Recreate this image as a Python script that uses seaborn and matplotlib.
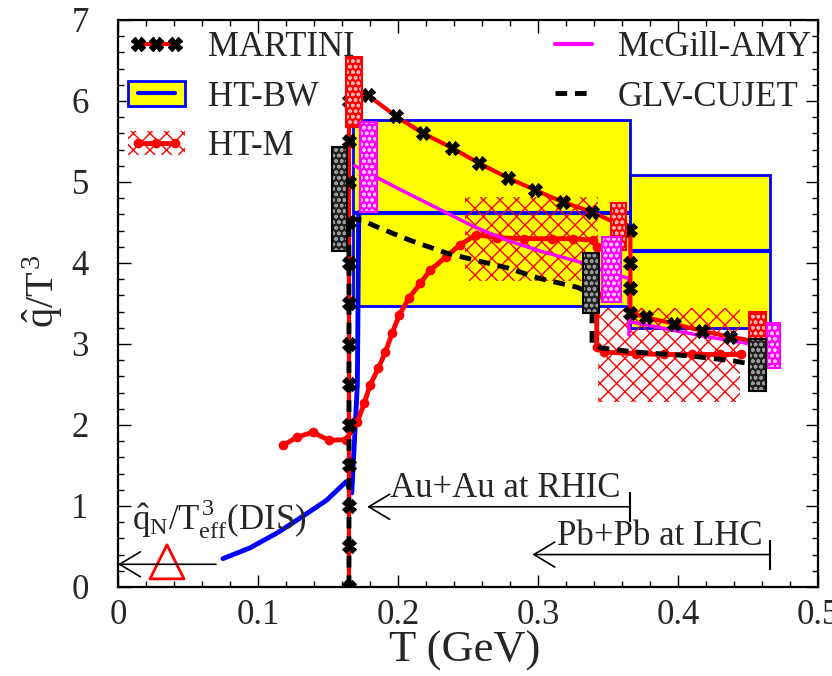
import numpy as np
import matplotlib
matplotlib.use("Agg")
import matplotlib.pyplot as plt
import seaborn as sns
from matplotlib.lines import Line2D
from matplotlib.patches import Patch
from matplotlib.legend_handler import HandlerTuple
from matplotlib.ticker import MultipleLocator, FuncFormatter

# ---------------- data ----------------
# MARTINI (red line, black X markers)
martini_T = [0.165, 0.165, 0.165, 0.165, 0.165, 0.165, 0.165, 0.165, 0.165, 0.165, 0.165, 0.165, 0.165,
             0.1786, 0.1986, 0.218, 0.2386, 0.258, 0.2786, 0.298, 0.318, 0.3386, 0.366,
             0.366, 0.366, 0.366, 0.377, 0.397, 0.417, 0.437, 0.466]
martini_q = [0.0, 0.5, 1.0, 1.5, 2.0, 2.5, 3.0, 3.5, 4.0, 4.5, 5.0, 5.5, 6.0,
             6.07, 5.81, 5.60, 5.42, 5.23, 5.05, 4.90, 4.75, 4.63, 4.41,
             4.0, 3.69, 3.38, 3.33, 3.25, 3.16, 3.09, 3.0]

# GLV-CUJET (black dashed)
glv_T = [0.165, 0.165, 0.174, 0.187, 0.2086, 0.235, 0.249, 0.278, 0.301, 0.328, 0.3386,
         0.3386, 0.345, 0.37, 0.41, 0.44, 0.459]
glv_q = [0.0, 4.55, 4.53, 4.43, 4.28, 4.12, 4.06, 3.94, 3.81, 3.70, 3.62,
         3.0, 2.95, 2.90, 2.85, 2.79, 2.73]

# McGill-AMY (magenta)
amy_T = [0.169, 0.18, 0.2, 0.23, 0.254, 0.278, 0.301, 0.33, 0.354, 0.365, 0.365]
amy_q = [5.2, 5.1, 4.92, 4.66, 4.45, 4.28, 4.15, 4.01, 3.86, 3.81, 3.11]
amy_lhc_T = [0.367, 0.417, 0.466]
amy_lhc_q = [3.27, 3.10, 2.96]

# HT-BW curve (blue)
htbw_T = [0.075, 0.094, 0.114, 0.13, 0.149, 0.163, 0.167, 0.171, 0.172]
htbw_q = [0.35, 0.48, 0.67, 0.85, 1.07, 1.3, 1.16, 2.5, 4.62]
# HT-BW boxes (RHIC, LHC)
htbw_T0 = [0.168, 0.366]
htbw_T1 = [0.366, 0.466]
htbw_lo = [3.47, 3.20]
htbw_hi = [5.77, 5.09]
htbw_mid = [4.62, 4.15]

# HT-M curve (red line with circles)
htm_T = [0.118, 0.128, 0.139, 0.151, 0.163, 0.171, 0.176, 0.18, 0.186, 0.191, 0.196, 0.201,
         0.208, 0.216, 0.223, 0.234, 0.244, 0.256, 0.271, 0.29, 0.31, 0.325, 0.339,
         0.342, 0.342, 0.342, 0.347, 0.37, 0.39, 0.41, 0.43, 0.445]
htm_q = [1.75, 1.85, 1.91, 1.81, 1.82, 2.04, 2.27, 2.49, 2.70, 2.90, 3.14, 3.36,
         3.57, 3.75, 3.91, 4.07, 4.22, 4.35, 4.31, 4.30, 4.30, 4.30, 4.28,
         4.2, 3.6, 2.96, 2.90, 2.88, 2.87, 2.87, 2.87, 2.87]
# HT-M hatched boxes (RHIC, LHC)
htm_T0 = [0.248, 0.343]
htm_T1 = [0.343, 0.444]
htm_lo = [3.78, 2.28]
htm_hi = [4.81, 3.44]

# error boxes
martini_err_T0 = [0.163, 0.352, 0.451]
martini_err_T1 = [0.174, 0.363, 0.463]
martini_err_lo = [5.68, 4.16, 2.89]
martini_err_hi = [6.54, 4.74, 3.40]
amy_err_T0 = [0.173, 0.346, 0.4636]
amy_err_T1 = [0.185, 0.359, 0.473]
amy_err_lo = [4.63, 3.52, 2.70]
amy_err_hi = [5.74, 4.32, 3.26]
glv_err_T0 = [0.153, 0.332, 0.451]
glv_err_T1 = [0.1636, 0.3436, 0.463]
glv_err_lo = [4.15, 3.38, 2.42]
glv_err_hi = [5.43, 4.12, 3.06]

# DIS point and arrows
dis_T = [0.035]
dis_q = [0.31]
dis_arrow = (0.07, 0.0, 0.28)          # from T, to T, q
rhic_arrow = (0.366, 0.178, 0.99)
lhc_arrow = (0.466, 0.296, 0.40)
rhic_bar = (0.366, 0.80, 1.17)
lhc_bar = (0.466, 0.21, 0.58)

# ---------------- style ----------------
sns.set_style("ticks")
plt.rcParams["font.family"] = ["Liberation Serif", "DejaVu Serif"]
plt.rcParams["mathtext.fontset"] = "custom"
plt.rcParams["mathtext.rm"] = "Liberation Serif"
plt.rcParams["mathtext.it"] = "Liberation Serif"
plt.rcParams["mathtext.bf"] = "Liberation Serif:bold"
plt.rcParams["hatch.linewidth"] = 1.0

fig = plt.figure(figsize=(8.32, 6.76), dpi=100)
ax = fig.add_axes([0.1418, 0.1317, 0.8413, 0.8388])

RED = "#ff0000"
BLUE = "#0000ff"
MAG = "#ff00ff"
YEL = "#ffff00"


def box(T0, T1, lo, hi, **kw):
    T0 = np.asarray(T0); T1 = np.asarray(T1)
    lo = np.asarray(lo); hi = np.asarray(hi)
    ax.bar(T0, hi - lo, width=T1 - T0, bottom=lo, align="edge", **kw)


# HT-BW yellow boxes
box(htbw_T0, htbw_T1, htbw_lo, htbw_hi, color=YEL, linewidth=0, zorder=1)
box(htbw_T0, htbw_T1, htbw_lo, htbw_hi, facecolor="none", edgecolor=BLUE, linewidth=2, zorder=2)
ax.hlines(htbw_mid, htbw_T0, htbw_T1, color=BLUE, linewidth=3, zorder=2)

# HT-M hatched boxes
box(htm_T0, htm_T1, htm_lo, htm_hi, facecolor="none", edgecolor=RED, hatch="xx", linewidth=0, zorder=3)

# curves
sns.lineplot(x=htbw_T, y=htbw_q, sort=False, estimator=None, ax=ax, color=BLUE, linewidth=3.5, zorder=4, legend=False)
sns.lineplot(x=htm_T, y=htm_q, sort=False, estimator=None, ax=ax, color=RED, linewidth=3.5,
             marker="o", markersize=7, markeredgewidth=0, markerfacecolor=RED, zorder=4, legend=False)
sns.lineplot(x=amy_T, y=amy_q, sort=False, estimator=None, ax=ax, color=MAG, linewidth=2.5, zorder=5, legend=False)
sns.lineplot(x=amy_lhc_T, y=amy_lhc_q, sort=False, estimator=None, ax=ax, color=MAG, linewidth=2.5, zorder=5, legend=False)
sns.lineplot(x=martini_T, y=martini_q, sort=False, estimator=None, ax=ax, color=RED, linewidth=3,
             marker="X", markersize=10, markerfacecolor="black", markeredgecolor="black", zorder=6, legend=False)
sns.lineplot(x=glv_T, y=glv_q, sort=False, estimator=None, ax=ax, color="black", linewidth=3.5,
             linestyle=(0, (2.4, 1.6)), zorder=6.5, legend=False)

# error boxes
box(martini_err_T0, martini_err_T1, martini_err_lo, martini_err_hi, facecolor=RED, edgecolor="#ffb0b0",
    hatch="ooo", linewidth=0, zorder=7)
box(martini_err_T0, martini_err_T1, martini_err_lo, martini_err_hi, facecolor="none", edgecolor=RED,
    linewidth=1.5, zorder=7)
box(amy_err_T0, amy_err_T1, amy_err_lo, amy_err_hi, facecolor=MAG, edgecolor="#ffc0ff",
    hatch="ooo", linewidth=0, zorder=7)
box(amy_err_T0, amy_err_T1, amy_err_lo, amy_err_hi, facecolor="none", edgecolor=MAG,
    linewidth=1.5, zorder=7)
box(glv_err_T0, glv_err_T1, glv_err_lo, glv_err_hi, facecolor="#222222", edgecolor="#9a9a9a",
    hatch="ooo", linewidth=0, zorder=7)
box(glv_err_T0, glv_err_T1, glv_err_lo, glv_err_hi, facecolor="none", edgecolor="black",
    linewidth=1.5, zorder=7)

# DIS triangle
sns.scatterplot(x=dis_T, y=dis_q, ax=ax, marker="^", s=600, facecolor="none", edgecolor=RED,
                linewidth=2, zorder=8, legend=False)

# arrows
arrow_kw = dict(arrowstyle="->,head_length=0.75,head_width=0.45", mutation_scale=20,
                color="black", lw=1.2, shrinkA=0, shrinkB=0)
for (t0, t1, q) in [dis_arrow, rhic_arrow, lhc_arrow]:
    ax.annotate("", xy=(t1, q), xytext=(t0, q), arrowprops=arrow_kw, zorder=8)
for (t, q0, q1) in [rhic_bar, lhc_bar]:
    ax.vlines(t, q0, q1, color="black", linewidth=1.5, zorder=8)

ax.text(0.010, 0.70, r"$\hat{q}_{\rm N}/T^3_{\rm eff}$(DIS)", fontsize=25, va="baseline", ha="left", zorder=9)
ax.text(0.194, 1.11, "Au+Au at RHIC", fontsize=25, va="baseline", ha="left", zorder=9)
ax.text(0.3136, 0.52, "Pb+Pb at LHC", fontsize=25, va="baseline", ha="left", zorder=9)

# axes
ax.set_xlim(0, 0.5)
ax.set_ylim(0, 7)
ax.xaxis.set_major_locator(MultipleLocator(0.1))
ax.xaxis.set_minor_locator(MultipleLocator(0.02))
ax.yaxis.set_major_locator(MultipleLocator(1))
ax.yaxis.set_minor_locator(MultipleLocator(0.2))
ax.xaxis.set_major_formatter(FuncFormatter(lambda v, p: "0" if abs(v) < 1e-9 else f"{v:g}"))
ax.yaxis.set_major_formatter(FuncFormatter(lambda v, p: f"{v:g}"))
ax.tick_params(which="both", direction="in", top=True, right=True, color="black", width=1)
ax.tick_params(which="major", length=9)
ax.tick_params(which="minor", length=4.5)
ax.tick_params(axis="x", which="major", labelsize=25, pad=9)
ax.tick_params(axis="y", which="major", labelsize=25, pad=21)
for s in ax.spines.values():
    s.set_linewidth(1.6)
    s.set_color("black")

ax.set_xlabel("T (GeV)", fontsize=32)
ax.set_ylabel(r"$\hat{q}/T^3$", fontsize=29)
ax.xaxis.set_label_coords(0.495, -0.077)
ax.yaxis.set_label_coords(-0.076, 0.522)

# legends
h_martini = Line2D([], [], color=RED, lw=3, marker="X", ms=10, mfc="black", mec="black")
h_htbw = (Patch(facecolor=YEL, edgecolor=BLUE, linewidth=2), Line2D([], [], color=BLUE, lw=3))
h_htm = (Patch(facecolor="none", edgecolor=RED, hatch="xx", linewidth=0),
         Line2D([], [], color=RED, lw=3.5, marker="o", ms=7, mew=0))
h_amy = Line2D([], [], color=MAG, lw=3)
h_glv = Line2D([], [], color="black", lw=3.5, linestyle=(0, (2.4, 1.6)))

leg_kw = dict(loc="upper left", frameon=False, fontsize=25, handlelength=1.65,
              labelspacing=0.47, borderpad=0, borderaxespad=0, numpoints=3,
              handler_map={tuple: HandlerTuple(ndivide=1)})
leg1 = ax.legend([h_martini, h_htbw, h_htm], ["MARTINI", "HT-BW", "HT-M"],
                 bbox_to_anchor=(0.014, 0.98), handletextpad=0.65, **leg_kw)
ax.add_artist(leg1)
leg2 = ax.legend([h_amy, h_glv], ["McGill-AMY", "GLV-CUJET"],
                 bbox_to_anchor=(0.61, 0.98), handletextpad=0.45, **leg_kw)

fig.savefig("out.png", dpi=100)
